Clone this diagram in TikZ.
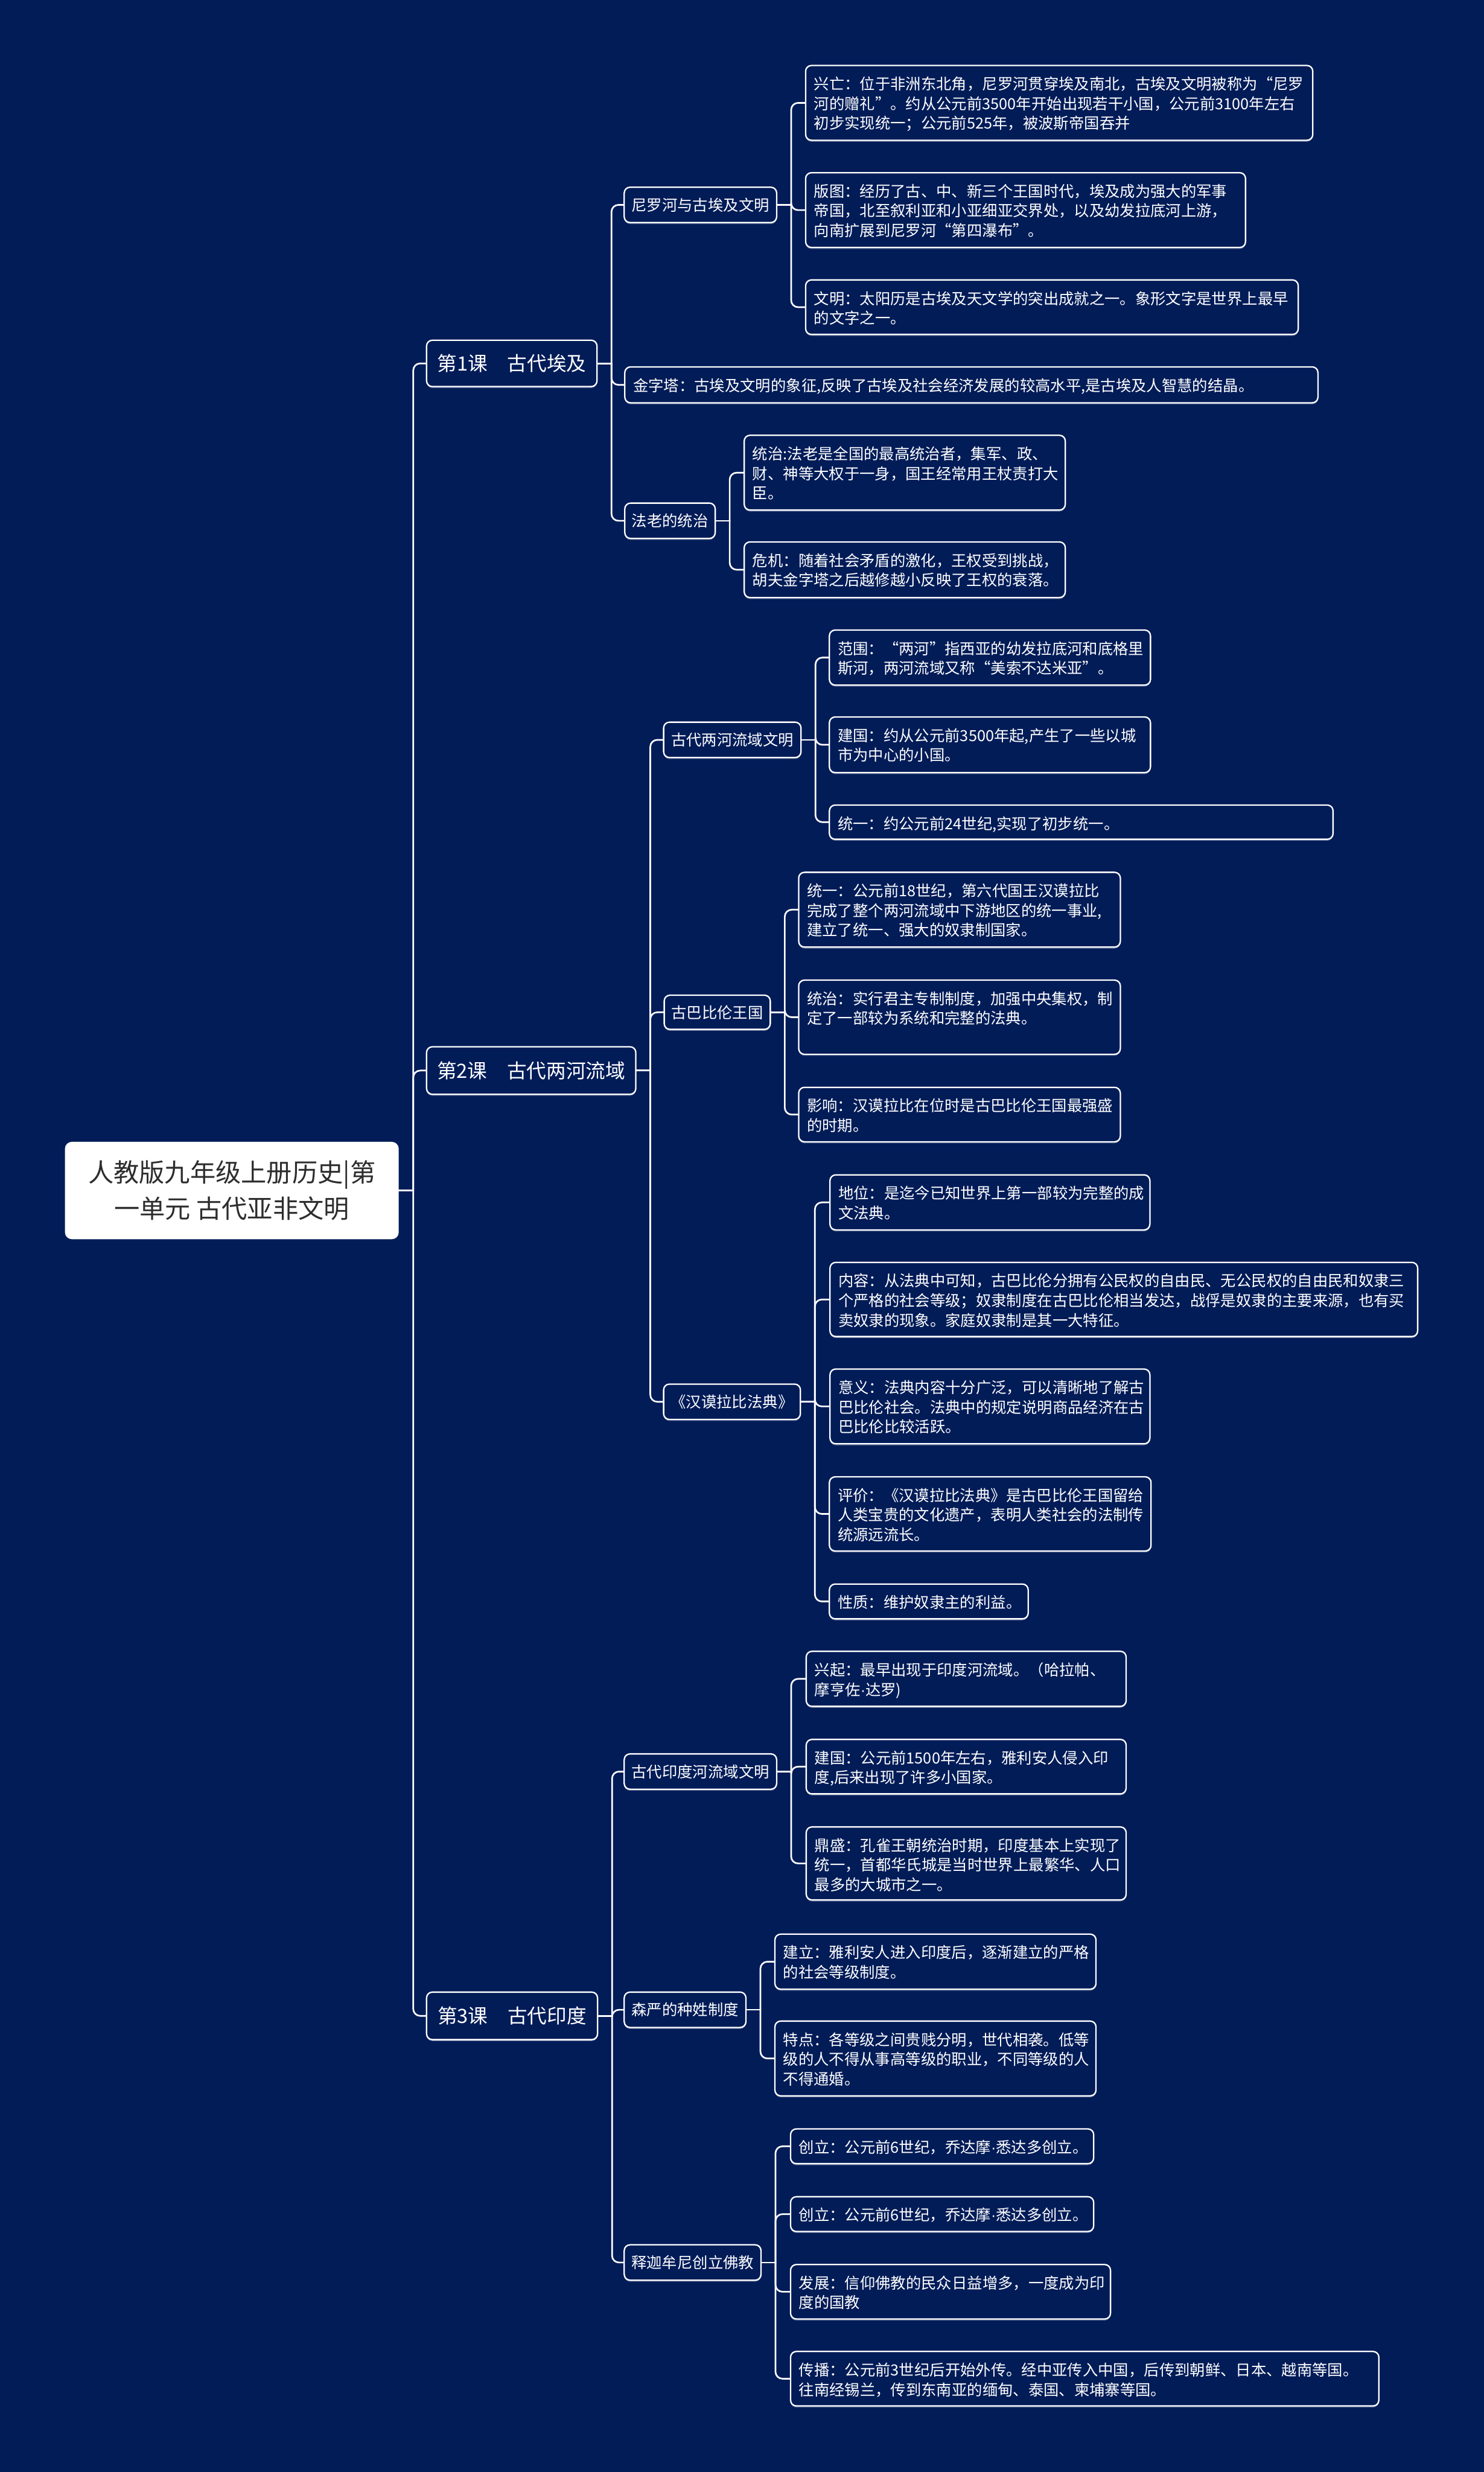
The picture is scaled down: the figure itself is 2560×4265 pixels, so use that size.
\documentclass[tikz,border=0pt]{standalone}
\usepackage{fontspec}
\setmainfont{Noto Sans CJK SC}
\newfontfamily\latfont{Liberation Sans}
\newcommand\mdot{{\latfont ·}}
\usetikzlibrary{shadows}
\definecolor{bg}{RGB}{2,28,88}
\definecolor{roottxt}{RGB}{45,45,45}
\pgfdeclarelayer{bgfill}
\pgfdeclarelayer{background}
\pgfsetlayers{bgfill,background,main}
\tikzset{
 mbox/.style={draw=white, line width=1.2pt, rounded corners=5pt, fill=bg, anchor=north west,
   inner sep=0pt, outer sep=0pt, text=white,
   drop shadow={shadow xshift=0pt, shadow yshift=-1.3pt, fill=white, opacity=0.3}},
 leaftext/.style={anchor=north west, inner sep=0pt, text=white, align=left,
   font=\fontsize{13.2}{17}\selectfont},
 lvtwo/.style={mbox, align=center, font=\fontsize{13.2}{17}\selectfont},
 lvone/.style={mbox, align=center, font=\fontsize{17}{22}\selectfont},
 rootbox/.style={fill=white, rounded corners=6pt, anchor=north west, inner sep=0pt, outer sep=0pt,
   text=roottxt, align=center, font=\fontsize{22}{31}\selectfont},
 conn/.style={draw=white, line width=1.4pt, rounded corners=6pt, line cap=round},
 connstraight/.style={draw=white, line width=1.4pt, line cap=round},
}
% style, name, L, T, R, B, text
\newcommand\NB[7]{\node[#1, minimum width={(#5-#3)*0.5pt}, minimum height={(#6-#4)*0.5pt}] (#2) at (#3,#4) {#7};}
% name, L, T, R, B, text
\newcommand\LF[6]{\node[mbox, minimum width={(#4-#2)*0.5pt}, minimum height={(#5-#3)*0.5pt}] (#1) at (#2,#3) {};
 \node[leaftext] (#1t) at (#2+14,#3+19) {#6};}
% parent, child
\newcommand\LK[2]{\begin{pgfonlayer}{background}
 \draw[connstraight] (#1.east) -- ([xshift=12.5pt]#1.east);
 \draw[conn] ([xshift=12.5pt]#1.east) |- (#2.west);
 \end{pgfonlayer}}
\begin{document}
\begin{tikzpicture}[x=0.5pt,y=-0.5pt]
\begin{pgfonlayer}{bgfill}
\fill[bg] (0,0) rectangle (2560,4265);
\end{pgfonlayer}
\useasboundingbox (0,0) rectangle (2560,4265);

% root
\NB{rootbox}{root}{112}{1970}{688}{2138}{人教版九年级上册历史|第\\一单元 古代亚非文明}

% level 1
\NB{lvone}{k1}{736}{587}{1030}{667}{第1课　古代埃及}
\NB{lvone}{k2}{736}{1806}{1097}{1888}{第2课　古代两河流域}
\NB{lvone}{k3}{736}{3437}{1031}{3519}{第3课　古代印度}

% level 2
\NB{lvtwo}{a1}{1077}{323}{1340}{384}{尼罗河与古埃及文明}
\NB{lvtwo}{a3}{1078}{868}{1234}{929}{法老的统治}
\NB{lvtwo}{b1}{1145}{1246}{1382}{1307}{古代两河流域文明}
\NB{lvtwo}{b2}{1146}{1717}{1329}{1776}{古巴比伦王国}
\NB{lvtwo}{b3}{1145}{2388}{1381}{2449}{《汉谟拉比法典》}
\NB{lvtwo}{c1}{1077}{3026}{1340}{3087}{古代印度河流域文明}
\NB{lvtwo}{c2}{1077}{3437}{1287}{3498}{森严的种姓制度}
\NB{lvtwo}{c3}{1077}{3873}{1313}{3934}{释迦牟尼创立佛教}

% leaves: lesson 1
\LF{a11}{1390}{113}{2265}{242}{兴亡：位于非洲东北角，尼罗河贯穿埃及南北，古埃及文明被称为“尼罗\\河的赠礼”。约从公元前3500年开始出现若干小国，公元前3100年左右\\初步实现统一；公元前525年，被波斯帝国吞并}
\LF{a12}{1390}{298}{2149}{427}{版图：经历了古、中、新三个王国时代，埃及成为强大的军事\\帝国，北至叙利亚和小亚细亚交界处，以及幼发拉底河上游，\\向南扩展到尼罗河“第四瀑布”。}
\LF{a13}{1390}{483}{2240}{577}{文明：太阳历是古埃及天文学的突出成就之一。象形文字是世界上最早\\的文字之一。}
\LF{a2}{1078}{633}{2274}{695}{金字塔：古埃及文明的象征,反映了古埃及社会经济发展的较高水平,是古埃及人智慧的结晶。}
\LF{a31}{1284}{751}{1838}{880}{统治:法老是全国的最高统治者，集军、政、\\财、神等大权于一身，国王经常用王杖责打大\\臣。}
\LF{a32}{1284}{935}{1838}{1031}{危机：随着社会矛盾的激化，王权受到挑战，\\胡夫金字塔之后越修越小反映了王权的衰落。}

% leaves: lesson 2
\LF{b11}{1431}{1087}{1985}{1182}{范围：“两河”指西亚的幼发拉底河和底格里\\斯河，两河流域又称“美索不达米亚”。}
\LF{b12}{1431}{1237}{1985}{1333}{建国：约从公元前3500年起,产生了一些以城\\市为中心的小国。}
\LF{b13}{1431}{1389}{2300}{1448}{统一：约公元前24世纪,实现了初步统一。}
\LF{b21}{1378}{1505}{1933}{1634}{统一：公元前18世纪，第六代国王汉谟拉比\\完成了整个两河流域中下游地区的统一事业,\\建立了统一、强大的奴隶制国家。}
\LF{b22}{1378}{1691}{1933}{1819}{统治：实行君主专制制度，加强中央集权，制\\定了一部较为系统和完整的法典。}
\LF{b23}{1378}{1876}{1933}{1970}{影响：汉谟拉比在位时是古巴比伦王国最强盛\\的时期。}
\LF{b31}{1432}{2027}{1984}{2122}{地位：是迄今已知世界上第一部较为完整的成\\文法典。}
\LF{b32}{1432}{2178}{2446}{2306}{内容：从法典中可知，古巴比伦分拥有公民权的自由民、无公民权的自由民和奴隶三\\个严格的社会等级；奴隶制度在古巴比伦相当发达，战俘是奴隶的主要来源，也有买\\卖奴隶的现象。家庭奴隶制是其一大特征。}
\LF{b33}{1432}{2362}{1984}{2491}{意义：法典内容十分广泛，可以清晰地了解古\\巴比伦社会。法典中的规定说明商品经济在古\\巴比伦比较活跃。}
\LF{b34}{1431}{2548}{1986}{2676}{评价：《汉谟拉比法典》是古巴比伦王国留给\\人类宝贵的文化遗产，表明人类社会的法制传\\统源远流长。}
\LF{b35}{1431}{2733}{1774}{2793}{性质：维护奴隶主的利益。}

% leaves: lesson 3
\LF{c11}{1391}{2849}{1943}{2944}{兴起：最早出现于印度河流域。（哈拉帕、\\摩亨佐\mdot 达罗)}
\LF{c12}{1391}{3001}{1943}{3095}{建国：公元前1500年左右，雅利安人侵入印\\度,后来出现了许多小国家。}
\LF{c13}{1391}{3152}{1943}{3278}{鼎盛：孔雀王朝统治时期，印度基本上实现了\\统一，首都华氏城是当时世界上最繁华、人口\\最多的大城市之一。}
\LF{c21}{1337}{3337}{1891}{3432}{建立：雅利安人进入印度后，逐渐建立的严格\\的社会等级制度。}
\LF{c22}{1337}{3487}{1891}{3616}{特点：各等级之间贵贱分明，世代相袭。低等\\级的人不得从事高等级的职业，不同等级的人\\不得通婚。}
\LF{c31}{1364}{3673}{1887}{3733}{创立：公元前6世纪，乔达摩\mdot 悉达多创立。}
\LF{c32}{1364}{3790}{1887}{3850}{创立：公元前6世纪，乔达摩\mdot 悉达多创立。}
\LF{c33}{1364}{3907}{1916}{4001}{发展：信仰佛教的民众日益增多，一度成为印\\度的国教}
\LF{c34}{1364}{4057}{2379}{4151}{传播：公元前3世纪后开始外传。经中亚传入中国，后传到朝鲜、日本、越南等国。\\往南经锡兰，传到东南亚的缅甸、泰国、柬埔寨等国。}

% connectors
\LK{root}{k1}\LK{root}{k2}\LK{root}{k3}
\LK{k1}{a1}\LK{k1}{a2}\LK{k1}{a3}
\LK{a1}{a11}\LK{a1}{a12}\LK{a1}{a13}
\LK{a3}{a31}\LK{a3}{a32}
\LK{k2}{b1}\LK{k2}{b2}\LK{k2}{b3}
\LK{b1}{b11}\LK{b1}{b12}\LK{b1}{b13}
\LK{b2}{b21}\LK{b2}{b22}\LK{b2}{b23}
\LK{b3}{b31}\LK{b3}{b32}\LK{b3}{b33}\LK{b3}{b34}\LK{b3}{b35}
\LK{k3}{c1}\LK{k3}{c2}\LK{k3}{c3}
\LK{c1}{c11}\LK{c1}{c12}\LK{c1}{c13}
\LK{c2}{c21}\LK{c2}{c22}
\LK{c3}{c31}\LK{c3}{c32}\LK{c3}{c33}\LK{c3}{c34}
\end{tikzpicture}
\end{document}
